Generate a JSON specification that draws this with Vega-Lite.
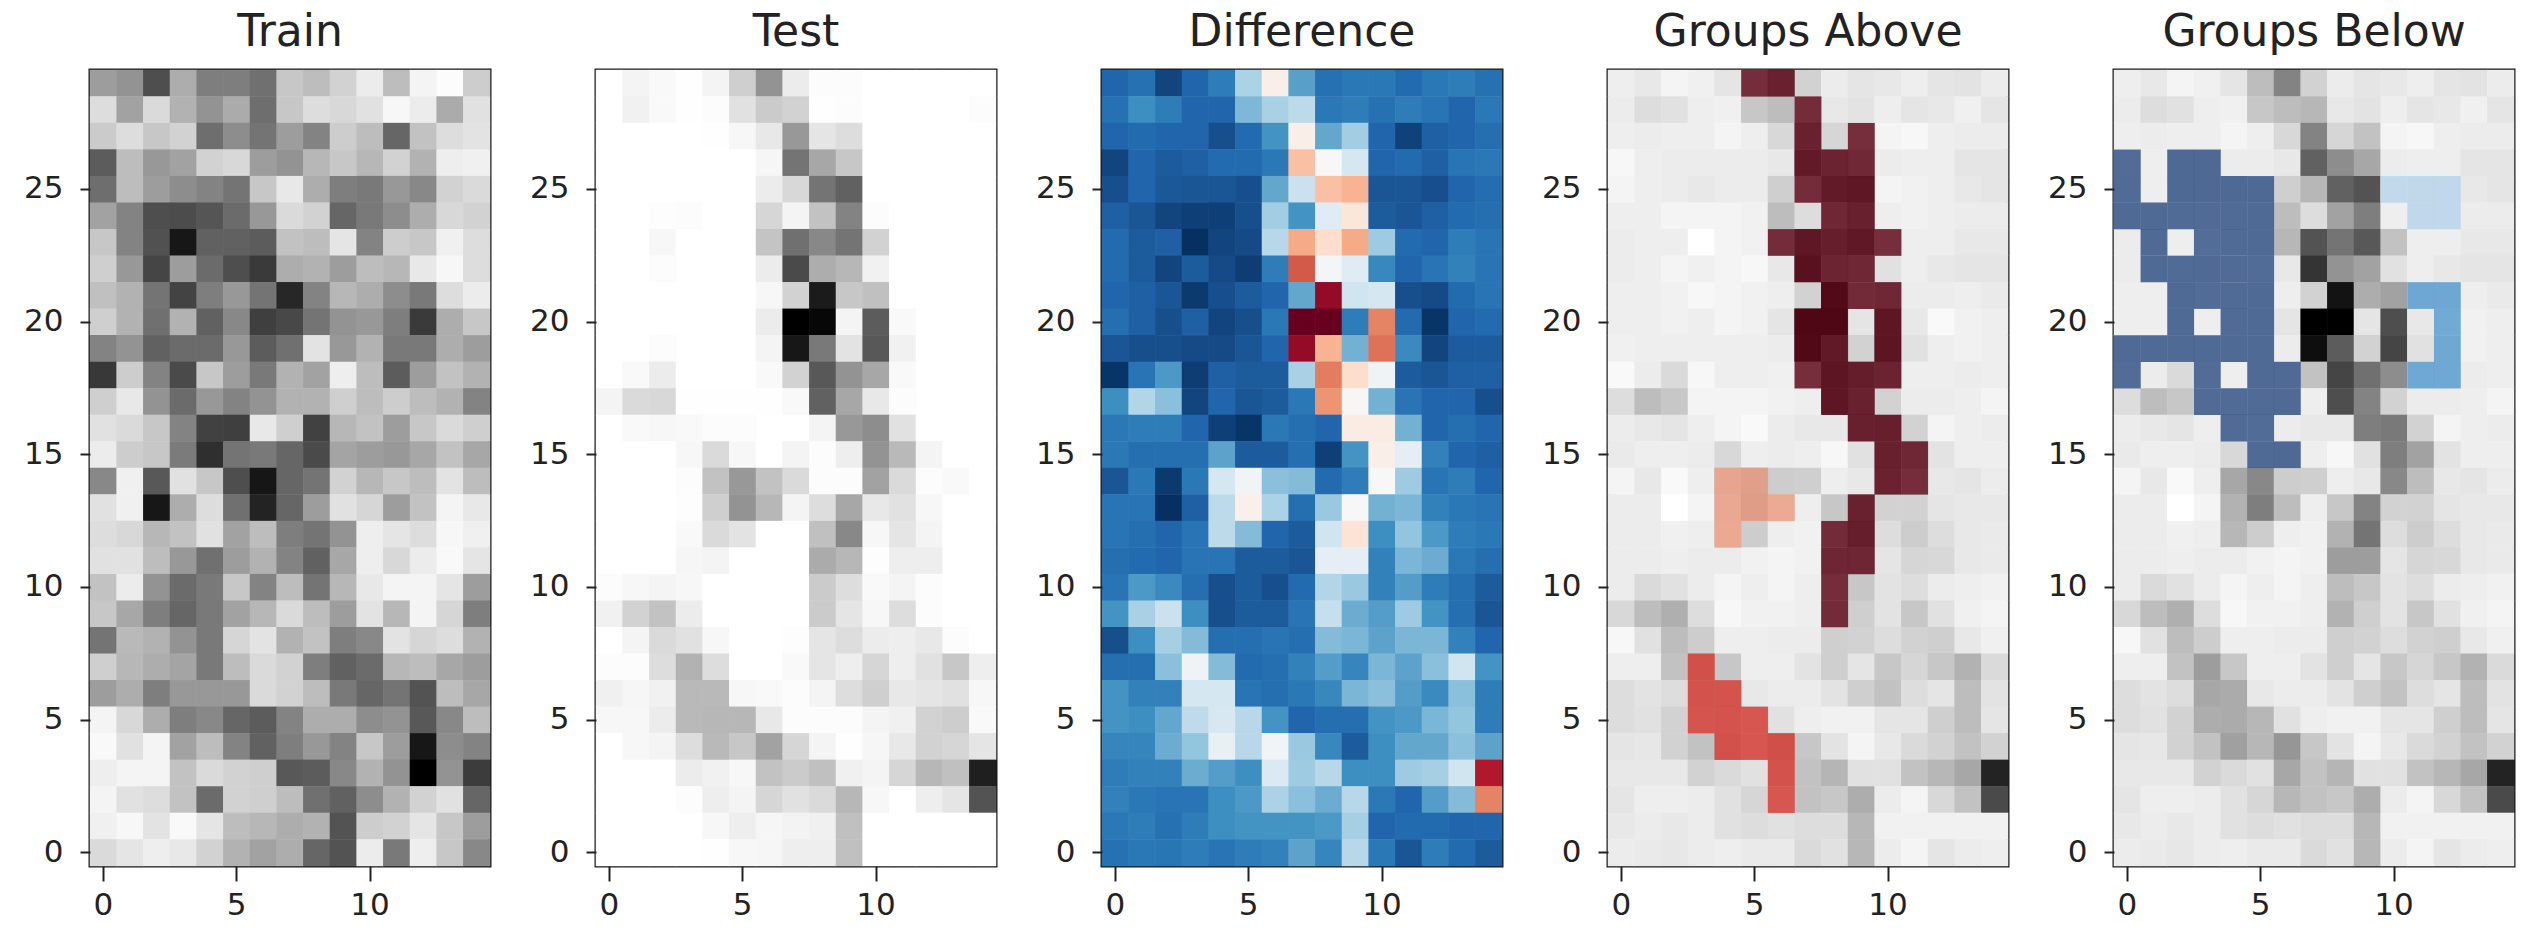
{"$schema":"https://vega.github.io/schema/vega-lite/v6.json","padding":{"left":22,"top":9,"right":0,"bottom":0},"spacing":36,"background":"white","resolve":{"scale":{"color":"independent"}},"config":{"view":{"stroke":"#1a1a1a","strokeWidth":3},"title":{"font":"DejaVu Sans","fontSize":44,"fontWeight":"normal","color":"#222222","offset":15},"axis":{"title":null,"grid":false,"domain":false,"tickColor":"#222222","tickWidth":2,"labelFont":"DejaVu Sans","labelFontSize":31,"labelColor":"#222222","labelAngle":0},"axisX":{"tickSize":15,"labelPadding":9},"axisY":{"tickSize":10,"labelPadding":17}},"data":{"values":[
{"x":0,"y":29,"train":165,"test":255,"diff":-0.8,"bg":240},{"x":1,"y":29,"train":155,"test":245,"diff":-0.75,"bg":235},{"x":2,"y":29,"train":85,"test":250,"diff":-0.92,"bg":245},{"x":3,"y":29,"train":180,"test":254,"diff":-0.8,"bg":242},{"x":4,"y":29,"train":135,"test":245,"diff":-0.7,"bg":232},{"x":5,"y":29,"train":135,"test":212,"diff":-0.32,"bg":195,"above":"g1"},{"x":6,"y":29,"train":120,"test":155,"diff":0.06,"bg":140,"above":"g1"},{"x":7,"y":29,"train":205,"test":238,"diff":-0.55,"bg":215},{"x":8,"y":29,"train":195,"test":252,"diff":-0.75,"bg":238},{"x":9,"y":29,"train":215,"test":252,"diff":-0.72,"bg":232},{"x":10,"y":29,"train":238,"test":255,"diff":-0.72,"bg":235},{"x":11,"y":29,"train":195,"test":255,"diff":-0.78,"bg":240},{"x":12,"y":29,"train":245,"test":255,"diff":-0.72,"bg":232},{"x":13,"y":29,"train":252,"test":255,"diff":-0.7,"bg":230},{"x":14,"y":29,"train":210,"test":255,"diff":-0.75,"bg":238},
{"x":0,"y":28,"train":225,"test":255,"diff":-0.75,"bg":238},{"x":1,"y":28,"train":170,"test":243,"diff":-0.62,"bg":225},{"x":2,"y":28,"train":222,"test":250,"diff":-0.7,"bg":228},{"x":3,"y":28,"train":185,"test":254,"diff":-0.8,"bg":240},{"x":4,"y":28,"train":155,"test":252,"diff":-0.8,"bg":242},{"x":5,"y":28,"train":178,"test":228,"diff":-0.45,"bg":205},{"x":6,"y":28,"train":118,"test":208,"diff":-0.33,"bg":195},{"x":7,"y":28,"train":205,"test":215,"diff":-0.27,"bg":190,"above":"g1"},{"x":8,"y":28,"train":225,"test":254,"diff":-0.72,"bg":235},{"x":9,"y":28,"train":220,"test":252,"diff":-0.7,"bg":230},{"x":10,"y":28,"train":228,"test":255,"diff":-0.75,"bg":240},{"x":11,"y":28,"train":248,"test":255,"diff":-0.7,"bg":232},{"x":12,"y":28,"train":238,"test":255,"diff":-0.74,"bg":235},{"x":13,"y":28,"train":178,"test":255,"diff":-0.8,"bg":242},{"x":14,"y":28,"train":228,"test":252,"diff":-0.72,"bg":232},
{"x":0,"y":27,"train":208,"test":255,"diff":-0.8,"bg":240},{"x":1,"y":27,"train":225,"test":255,"diff":-0.78,"bg":238},{"x":2,"y":27,"train":205,"test":255,"diff":-0.8,"bg":240},{"x":3,"y":27,"train":215,"test":255,"diff":-0.8,"bg":240},{"x":4,"y":27,"train":118,"test":254,"diff":-0.88,"bg":245},{"x":5,"y":27,"train":150,"test":248,"diff":-0.78,"bg":240},{"x":6,"y":27,"train":125,"test":235,"diff":-0.6,"bg":220},{"x":7,"y":27,"train":165,"test":160,"diff":0.06,"bg":140,"above":"g1"},{"x":8,"y":27,"train":140,"test":232,"diff":-0.52,"bg":218},{"x":9,"y":27,"train":210,"test":225,"diff":-0.35,"bg":200,"above":"g1"},{"x":10,"y":27,"train":195,"test":255,"diff":-0.8,"bg":245},{"x":11,"y":27,"train":110,"test":255,"diff":-0.93,"bg":248},{"x":12,"y":27,"train":200,"test":255,"diff":-0.82,"bg":240},{"x":13,"y":27,"train":225,"test":255,"diff":-0.8,"bg":238},{"x":14,"y":27,"train":230,"test":255,"diff":-0.76,"bg":238},
{"x":0,"y":26,"train":100,"test":255,"diff":-0.92,"bg":248,"below":"b1"},{"x":1,"y":26,"train":195,"test":255,"diff":-0.8,"bg":240},{"x":2,"y":26,"train":160,"test":255,"diff":-0.84,"bg":238,"below":"b1"},{"x":3,"y":26,"train":170,"test":255,"diff":-0.82,"bg":238,"below":"b1"},{"x":4,"y":26,"train":215,"test":255,"diff":-0.78,"bg":238},{"x":5,"y":26,"train":220,"test":255,"diff":-0.78,"bg":238},{"x":6,"y":26,"train":165,"test":247,"diff":-0.72,"bg":235},{"x":7,"y":26,"train":155,"test":125,"diff":0.3,"bg":105,"above":"g1"},{"x":8,"y":26,"train":190,"test":175,"diff":0,"bg":150,"above":"g1"},{"x":9,"y":26,"train":205,"test":205,"diff":-0.18,"bg":175,"above":"g1"},{"x":10,"y":26,"train":190,"test":255,"diff":-0.8,"bg":238},{"x":11,"y":26,"train":215,"test":255,"diff":-0.78,"bg":240},{"x":12,"y":26,"train":185,"test":255,"diff":-0.82,"bg":240},{"x":13,"y":26,"train":240,"test":255,"diff":-0.74,"bg":232},{"x":14,"y":26,"train":242,"test":255,"diff":-0.72,"bg":232},
{"x":0,"y":25,"train":118,"test":255,"diff":-0.88,"bg":245,"below":"b1"},{"x":1,"y":25,"train":195,"test":255,"diff":-0.8,"bg":240},{"x":2,"y":25,"train":165,"test":255,"diff":-0.85,"bg":238,"below":"b1"},{"x":3,"y":25,"train":150,"test":255,"diff":-0.86,"bg":235,"below":"b1"},{"x":4,"y":25,"train":140,"test":255,"diff":-0.86,"bg":238,"below":"b1"},{"x":5,"y":25,"train":125,"test":255,"diff":-0.88,"bg":238,"below":"b1"},{"x":6,"y":25,"train":205,"test":238,"diff":-0.52,"bg":212},{"x":7,"y":25,"train":235,"test":220,"diff":-0.22,"bg":190,"above":"g1"},{"x":8,"y":25,"train":180,"test":125,"diff":0.3,"bg":105,"above":"g1"},{"x":9,"y":25,"train":135,"test":105,"diff":0.35,"bg":90,"above":"g1"},{"x":10,"y":25,"train":130,"test":255,"diff":-0.86,"bg":245,"below":"b2"},{"x":11,"y":25,"train":160,"test":255,"diff":-0.86,"bg":243,"below":"b2"},{"x":12,"y":25,"train":145,"test":255,"diff":-0.88,"bg":240,"below":"b2"},{"x":13,"y":25,"train":215,"test":255,"diff":-0.8,"bg":235},{"x":14,"y":25,"train":222,"test":255,"diff":-0.77,"bg":232},
{"x":0,"y":24,"train":170,"test":255,"diff":-0.82,"bg":240,"below":"b1"},{"x":1,"y":24,"train":140,"test":255,"diff":-0.86,"bg":240,"below":"b1"},{"x":2,"y":24,"train":85,"test":253,"diff":-0.92,"bg":245,"below":"b1"},{"x":3,"y":24,"train":82,"test":252,"diff":-0.94,"bg":245,"below":"b1"},{"x":4,"y":24,"train":92,"test":255,"diff":-0.94,"bg":245,"below":"b1"},{"x":5,"y":24,"train":115,"test":255,"diff":-0.88,"bg":243,"below":"b1"},{"x":6,"y":24,"train":160,"test":218,"diff":-0.35,"bg":195},{"x":7,"y":24,"train":222,"test":245,"diff":-0.6,"bg":225},{"x":8,"y":24,"train":215,"test":200,"diff":-0.12,"bg":170,"above":"g1"},{"x":9,"y":24,"train":110,"test":140,"diff":0.12,"bg":135,"above":"g1"},{"x":10,"y":24,"train":130,"test":252,"diff":-0.84,"bg":240},{"x":11,"y":24,"train":150,"test":255,"diff":-0.86,"bg":243,"below":"b2"},{"x":12,"y":24,"train":180,"test":255,"diff":-0.82,"bg":240,"below":"b2"},{"x":13,"y":24,"train":220,"test":255,"diff":-0.78,"bg":238},{"x":14,"y":24,"train":215,"test":255,"diff":-0.76,"bg":238},
{"x":0,"y":23,"train":205,"test":255,"diff":-0.78,"bg":238},{"x":1,"y":23,"train":140,"test":255,"diff":-0.84,"bg":240,"below":"b1"},{"x":2,"y":23,"train":88,"test":248,"diff":-0.82,"bg":240},{"x":3,"y":23,"train":20,"test":255,"diff":-1,"bg":255,"below":"b1"},{"x":4,"y":23,"train":105,"test":255,"diff":-0.92,"bg":245,"below":"b1"},{"x":5,"y":23,"train":105,"test":255,"diff":-0.9,"bg":243,"below":"b1"},{"x":6,"y":23,"train":100,"test":202,"diff":-0.28,"bg":190,"above":"g1"},{"x":7,"y":23,"train":200,"test":120,"diff":0.38,"bg":90,"above":"g1"},{"x":8,"y":23,"train":195,"test":145,"diff":0.18,"bg":125,"above":"g1"},{"x":9,"y":23,"train":232,"test":125,"diff":0.38,"bg":95,"above":"g1"},{"x":10,"y":23,"train":140,"test":215,"diff":-0.36,"bg":200,"above":"g1"},{"x":11,"y":23,"train":210,"test":255,"diff":-0.78,"bg":240},{"x":12,"y":23,"train":205,"test":255,"diff":-0.8,"bg":240},{"x":13,"y":23,"train":242,"test":255,"diff":-0.7,"bg":235},{"x":14,"y":23,"train":225,"test":255,"diff":-0.74,"bg":235},
{"x":0,"y":22,"train":212,"test":255,"diff":-0.78,"bg":238},{"x":1,"y":22,"train":160,"test":255,"diff":-0.84,"bg":240,"below":"b1"},{"x":2,"y":22,"train":75,"test":252,"diff":-0.92,"bg":245,"below":"b1"},{"x":3,"y":22,"train":165,"test":255,"diff":-0.84,"bg":242,"below":"b1"},{"x":4,"y":22,"train":115,"test":255,"diff":-0.9,"bg":245,"below":"b1"},{"x":5,"y":22,"train":85,"test":255,"diff":-0.95,"bg":248,"below":"b1"},{"x":6,"y":22,"train":62,"test":238,"diff":-0.7,"bg":235},{"x":7,"y":22,"train":180,"test":80,"diff":0.62,"bg":55,"above":"g1"},{"x":8,"y":22,"train":185,"test":180,"diff":-0.02,"bg":155,"above":"g1"},{"x":9,"y":22,"train":165,"test":190,"diff":-0.12,"bg":170,"above":"g1"},{"x":10,"y":22,"train":195,"test":243,"diff":-0.65,"bg":228},{"x":11,"y":22,"train":190,"test":255,"diff":-0.8,"bg":240},{"x":12,"y":22,"train":235,"test":255,"diff":-0.74,"bg":235},{"x":13,"y":22,"train":248,"test":255,"diff":-0.68,"bg":232},{"x":14,"y":22,"train":225,"test":255,"diff":-0.74,"bg":232},
{"x":0,"y":21,"train":198,"test":255,"diff":-0.8,"bg":240},{"x":1,"y":21,"train":185,"test":255,"diff":-0.82,"bg":240},{"x":2,"y":21,"train":125,"test":255,"diff":-0.86,"bg":243,"below":"b1"},{"x":3,"y":21,"train":72,"test":255,"diff":-0.96,"bg":248,"below":"b1"},{"x":4,"y":21,"train":135,"test":255,"diff":-0.88,"bg":245,"below":"b1"},{"x":5,"y":21,"train":160,"test":255,"diff":-0.84,"bg":243,"below":"b1"},{"x":6,"y":21,"train":125,"test":248,"diff":-0.8,"bg":240},{"x":7,"y":21,"train":40,"test":215,"diff":-0.52,"bg":215},{"x":8,"y":21,"train":140,"test":25,"diff":0.88,"bg":15,"above":"g1"},{"x":9,"y":21,"train":190,"test":205,"diff":-0.2,"bg":180,"above":"g1"},{"x":10,"y":21,"train":180,"test":198,"diff":-0.18,"bg":170,"above":"g1"},{"x":11,"y":21,"train":150,"test":255,"diff":-0.88,"bg":238,"below":"b3"},{"x":12,"y":21,"train":130,"test":255,"diff":-0.9,"bg":238,"below":"b3"},{"x":13,"y":21,"train":225,"test":255,"diff":-0.78,"bg":240},{"x":14,"y":21,"train":238,"test":255,"diff":-0.74,"bg":236},
{"x":0,"y":20,"train":212,"test":255,"diff":-0.76,"bg":240},{"x":1,"y":20,"train":185,"test":255,"diff":-0.82,"bg":240},{"x":2,"y":20,"train":120,"test":255,"diff":-0.88,"bg":243,"below":"b1"},{"x":3,"y":20,"train":185,"test":255,"diff":-0.82,"bg":240},{"x":4,"y":20,"train":105,"test":255,"diff":-0.92,"bg":245,"below":"b1"},{"x":5,"y":20,"train":145,"test":255,"diff":-0.88,"bg":243,"below":"b1"},{"x":6,"y":20,"train":68,"test":238,"diff":-0.72,"bg":232},{"x":7,"y":20,"train":78,"test":0,"diff":1,"bg":0,"above":"g1"},{"x":8,"y":20,"train":125,"test":5,"diff":1,"bg":0,"above":"g1"},{"x":9,"y":20,"train":155,"test":245,"diff":-0.7,"bg":232},{"x":10,"y":20,"train":160,"test":100,"diff":0.5,"bg":85,"above":"g1"},{"x":11,"y":20,"train":135,"test":250,"diff":-0.78,"bg":235},{"x":12,"y":20,"train":62,"test":255,"diff":-0.98,"bg":250,"below":"b3"},{"x":13,"y":20,"train":180,"test":255,"diff":-0.8,"bg":243},{"x":14,"y":20,"train":205,"test":255,"diff":-0.78,"bg":240},
{"x":0,"y":19,"train":140,"test":255,"diff":-0.86,"bg":242,"below":"b1"},{"x":1,"y":19,"train":155,"test":255,"diff":-0.88,"bg":240,"below":"b1"},{"x":2,"y":19,"train":105,"test":252,"diff":-0.88,"bg":240,"below":"b1"},{"x":3,"y":19,"train":115,"test":255,"diff":-0.9,"bg":240,"below":"b1"},{"x":4,"y":19,"train":115,"test":255,"diff":-0.9,"bg":240,"below":"b1"},{"x":5,"y":19,"train":160,"test":255,"diff":-0.86,"bg":240,"below":"b1"},{"x":6,"y":19,"train":100,"test":245,"diff":-0.8,"bg":238},{"x":7,"y":19,"train":120,"test":20,"diff":0.88,"bg":10,"above":"g1"},{"x":8,"y":19,"train":230,"test":130,"diff":0.35,"bg":100,"above":"g1"},{"x":9,"y":19,"train":160,"test":230,"diff":-0.48,"bg":215},{"x":10,"y":19,"train":185,"test":95,"diff":0.55,"bg":75,"above":"g1"},{"x":11,"y":19,"train":130,"test":243,"diff":-0.64,"bg":228},{"x":12,"y":19,"train":130,"test":255,"diff":-0.92,"bg":240,"below":"b3"},{"x":13,"y":19,"train":180,"test":255,"diff":-0.84,"bg":243},{"x":14,"y":19,"train":165,"test":255,"diff":-0.84,"bg":240},
{"x":0,"y":18,"train":60,"test":255,"diff":-0.98,"bg":250,"below":"b1"},{"x":1,"y":18,"train":210,"test":250,"diff":-0.74,"bg":238},{"x":2,"y":18,"train":140,"test":238,"diff":-0.58,"bg":222},{"x":3,"y":18,"train":80,"test":255,"diff":-0.95,"bg":248,"below":"b1"},{"x":4,"y":18,"train":205,"test":255,"diff":-0.82,"bg":240},{"x":5,"y":18,"train":165,"test":255,"diff":-0.84,"bg":240,"below":"b1"},{"x":6,"y":18,"train":130,"test":250,"diff":-0.84,"bg":242,"below":"b1"},{"x":7,"y":18,"train":185,"test":215,"diff":-0.33,"bg":200,"above":"g1"},{"x":8,"y":18,"train":170,"test":95,"diff":0.52,"bg":75,"above":"g1"},{"x":9,"y":18,"train":240,"test":155,"diff":0.18,"bg":120,"above":"g1"},{"x":10,"y":18,"train":195,"test":175,"diff":-0.04,"bg":150,"above":"g1"},{"x":11,"y":18,"train":100,"test":250,"diff":-0.84,"bg":240,"below":"b3"},{"x":12,"y":18,"train":165,"test":255,"diff":-0.86,"bg":240,"below":"b3"},{"x":13,"y":18,"train":200,"test":255,"diff":-0.82,"bg":238},{"x":14,"y":18,"train":185,"test":255,"diff":-0.82,"bg":240},
{"x":0,"y":17,"train":212,"test":245,"diff":-0.62,"bg":225},{"x":1,"y":17,"train":235,"test":222,"diff":-0.3,"bg":195},{"x":2,"y":17,"train":155,"test":220,"diff":-0.42,"bg":205},{"x":3,"y":17,"train":115,"test":254,"diff":-0.92,"bg":245,"below":"b1"},{"x":4,"y":17,"train":160,"test":254,"diff":-0.8,"bg":245,"below":"b1"},{"x":5,"y":17,"train":140,"test":254,"diff":-0.86,"bg":245,"below":"b1"},{"x":6,"y":17,"train":155,"test":254,"diff":-0.84,"bg":243,"below":"b1"},{"x":7,"y":17,"train":185,"test":250,"diff":-0.72,"bg":240},{"x":8,"y":17,"train":185,"test":105,"diff":0.45,"bg":85,"above":"g1"},{"x":9,"y":17,"train":212,"test":175,"diff":0.01,"bg":140,"above":"g1"},{"x":10,"y":17,"train":195,"test":235,"diff":-0.48,"bg":215},{"x":11,"y":17,"train":210,"test":252,"diff":-0.74,"bg":238},{"x":12,"y":17,"train":195,"test":255,"diff":-0.8,"bg":238},{"x":13,"y":17,"train":185,"test":255,"diff":-0.8,"bg":240},{"x":14,"y":17,"train":140,"test":255,"diff":-0.88,"bg":245},
{"x":0,"y":16,"train":228,"test":255,"diff":-0.72,"bg":238},{"x":1,"y":16,"train":222,"test":250,"diff":-0.7,"bg":235},{"x":2,"y":16,"train":205,"test":248,"diff":-0.7,"bg":232},{"x":3,"y":16,"train":140,"test":250,"diff":-0.8,"bg":240},{"x":4,"y":16,"train":70,"test":252,"diff":-0.94,"bg":245,"below":"b1"},{"x":5,"y":16,"train":68,"test":252,"diff":-0.98,"bg":250,"below":"b1"},{"x":6,"y":16,"train":235,"test":255,"diff":-0.72,"bg":238},{"x":7,"y":16,"train":212,"test":255,"diff":-0.76,"bg":235},{"x":8,"y":16,"train":70,"test":245,"diff":-0.8,"bg":235},{"x":9,"y":16,"train":190,"test":160,"diff":0.08,"bg":135,"above":"g1"},{"x":10,"y":16,"train":200,"test":150,"diff":0.08,"bg":130,"above":"g1"},{"x":11,"y":16,"train":165,"test":228,"diff":-0.48,"bg":215},{"x":12,"y":16,"train":205,"test":255,"diff":-0.8,"bg":245},{"x":13,"y":16,"train":222,"test":255,"diff":-0.76,"bg":240},{"x":14,"y":16,"train":212,"test":255,"diff":-0.8,"bg":238},
{"x":0,"y":15,"train":238,"test":255,"diff":-0.72,"bg":236},{"x":1,"y":15,"train":210,"test":255,"diff":-0.76,"bg":240},{"x":2,"y":15,"train":205,"test":255,"diff":-0.76,"bg":240},{"x":3,"y":15,"train":132,"test":248,"diff":-0.76,"bg":238},{"x":4,"y":15,"train":50,"test":222,"diff":-0.54,"bg":220},{"x":5,"y":15,"train":125,"test":248,"diff":-0.84,"bg":240,"below":"b1"},{"x":6,"y":15,"train":130,"test":255,"diff":-0.84,"bg":238,"below":"b1"},{"x":7,"y":15,"train":110,"test":245,"diff":-0.76,"bg":240},{"x":8,"y":15,"train":80,"test":252,"diff":-0.94,"bg":248},{"x":9,"y":15,"train":172,"test":240,"diff":-0.6,"bg":228},{"x":10,"y":15,"train":165,"test":155,"diff":0.06,"bg":135,"above":"g1"},{"x":11,"y":15,"train":160,"test":192,"diff":-0.1,"bg":170,"above":"g1"},{"x":12,"y":15,"train":175,"test":245,"diff":-0.68,"bg":230},{"x":13,"y":15,"train":200,"test":255,"diff":-0.8,"bg":240},{"x":14,"y":15,"train":175,"test":255,"diff":-0.82,"bg":240},
{"x":0,"y":14,"train":145,"test":255,"diff":-0.86,"bg":245},{"x":1,"y":14,"train":242,"test":255,"diff":-0.72,"bg":235},{"x":2,"y":14,"train":95,"test":255,"diff":-0.96,"bg":250},{"x":3,"y":14,"train":228,"test":252,"diff":-0.72,"bg":240},{"x":4,"y":14,"train":205,"test":200,"diff":-0.18,"bg":175,"above":"g2"},{"x":5,"y":14,"train":85,"test":160,"diff":-0.03,"bg":145,"above":"g2"},{"x":6,"y":14,"train":18,"test":200,"diff":-0.42,"bg":210},{"x":7,"y":14,"train":110,"test":222,"diff":-0.44,"bg":212},{"x":8,"y":14,"train":125,"test":252,"diff":-0.78,"bg":240},{"x":9,"y":14,"train":215,"test":252,"diff":-0.7,"bg":235},{"x":10,"y":14,"train":190,"test":170,"diff":0,"bg":145,"above":"g1"},{"x":11,"y":14,"train":205,"test":222,"diff":-0.36,"bg":195,"above":"g1"},{"x":12,"y":14,"train":195,"test":252,"diff":-0.74,"bg":235},{"x":13,"y":14,"train":230,"test":250,"diff":-0.7,"bg":232},{"x":14,"y":14,"train":195,"test":255,"diff":-0.8,"bg":238},
{"x":0,"y":13,"train":228,"test":255,"diff":-0.74,"bg":238},{"x":1,"y":13,"train":242,"test":255,"diff":-0.74,"bg":238},{"x":2,"y":13,"train":20,"test":255,"diff":-1,"bg":255},{"x":3,"y":13,"train":180,"test":253,"diff":-0.82,"bg":245},{"x":4,"y":13,"train":225,"test":212,"diff":-0.27,"bg":185,"above":"g2"},{"x":5,"y":13,"train":120,"test":155,"diff":0.05,"bg":135,"above":"g2"},{"x":6,"y":13,"train":35,"test":190,"diff":-0.32,"bg":195,"above":"g2"},{"x":7,"y":13,"train":110,"test":245,"diff":-0.76,"bg":240},{"x":8,"y":13,"train":165,"test":225,"diff":-0.38,"bg":205},{"x":9,"y":13,"train":228,"test":175,"diff":0,"bg":140,"above":"g1"},{"x":10,"y":13,"train":218,"test":235,"diff":-0.48,"bg":215},{"x":11,"y":13,"train":165,"test":228,"diff":-0.46,"bg":215},{"x":12,"y":13,"train":200,"test":248,"diff":-0.68,"bg":232},{"x":13,"y":13,"train":245,"test":255,"diff":-0.72,"bg":235},{"x":14,"y":13,"train":235,"test":255,"diff":-0.74,"bg":235},
{"x":0,"y":12,"train":225,"test":255,"diff":-0.74,"bg":238},{"x":1,"y":12,"train":220,"test":255,"diff":-0.76,"bg":238},{"x":2,"y":12,"train":190,"test":255,"diff":-0.8,"bg":242},{"x":3,"y":12,"train":200,"test":250,"diff":-0.74,"bg":240},{"x":4,"y":12,"train":228,"test":222,"diff":-0.27,"bg":190,"above":"g2"},{"x":5,"y":12,"train":170,"test":230,"diff":-0.44,"bg":210},{"x":6,"y":12,"train":195,"test":255,"diff":-0.8,"bg":240},{"x":7,"y":12,"train":135,"test":255,"diff":-0.84,"bg":243},{"x":8,"y":12,"train":125,"test":198,"diff":-0.2,"bg":185,"above":"g1"},{"x":9,"y":12,"train":155,"test":145,"diff":0.14,"bg":125,"above":"g1"},{"x":10,"y":12,"train":240,"test":248,"diff":-0.62,"bg":225},{"x":11,"y":12,"train":232,"test":232,"diff":-0.4,"bg":210},{"x":12,"y":12,"train":225,"test":245,"diff":-0.58,"bg":225},{"x":13,"y":12,"train":248,"test":255,"diff":-0.7,"bg":235},{"x":14,"y":12,"train":242,"test":255,"diff":-0.72,"bg":236},
{"x":0,"y":11,"train":228,"test":255,"diff":-0.76,"bg":238},{"x":1,"y":11,"train":228,"test":255,"diff":-0.78,"bg":238},{"x":2,"y":11,"train":195,"test":255,"diff":-0.8,"bg":240},{"x":3,"y":11,"train":160,"test":247,"diff":-0.74,"bg":238},{"x":4,"y":11,"train":120,"test":245,"diff":-0.74,"bg":238},{"x":5,"y":11,"train":165,"test":255,"diff":-0.84,"bg":243},{"x":6,"y":11,"train":185,"test":255,"diff":-0.84,"bg":245},{"x":7,"y":11,"train":140,"test":255,"diff":-0.86,"bg":243},{"x":8,"y":11,"train":105,"test":178,"diff":-0.1,"bg":165,"above":"g1"},{"x":9,"y":11,"train":175,"test":190,"diff":-0.1,"bg":165,"above":"g1"},{"x":10,"y":11,"train":240,"test":253,"diff":-0.68,"bg":232},{"x":11,"y":11,"train":220,"test":240,"diff":-0.46,"bg":218},{"x":12,"y":11,"train":238,"test":240,"diff":-0.5,"bg":220},{"x":13,"y":11,"train":250,"test":255,"diff":-0.72,"bg":235},{"x":14,"y":11,"train":232,"test":255,"diff":-0.76,"bg":236},
{"x":0,"y":10,"train":200,"test":252,"diff":-0.74,"bg":238},{"x":1,"y":10,"train":238,"test":248,"diff":-0.58,"bg":222},{"x":2,"y":10,"train":155,"test":245,"diff":-0.64,"bg":228},{"x":3,"y":10,"train":115,"test":248,"diff":-0.76,"bg":238},{"x":4,"y":10,"train":130,"test":255,"diff":-0.88,"bg":245},{"x":5,"y":10,"train":205,"test":255,"diff":-0.84,"bg":240},{"x":6,"y":10,"train":140,"test":255,"diff":-0.88,"bg":245},{"x":7,"y":10,"train":195,"test":255,"diff":-0.78,"bg":240},{"x":8,"y":10,"train":125,"test":208,"diff":-0.3,"bg":195,"above":"g1"},{"x":9,"y":10,"train":190,"test":225,"diff":-0.38,"bg":205},{"x":10,"y":10,"train":235,"test":250,"diff":-0.68,"bg":230},{"x":11,"y":10,"train":245,"test":245,"diff":-0.56,"bg":225},{"x":12,"y":10,"train":245,"test":252,"diff":-0.7,"bg":238},{"x":13,"y":10,"train":232,"test":255,"diff":-0.76,"bg":240},{"x":14,"y":10,"train":165,"test":255,"diff":-0.84,"bg":243},
{"x":0,"y":9,"train":205,"test":243,"diff":-0.6,"bg":220},{"x":1,"y":9,"train":175,"test":215,"diff":-0.33,"bg":195},{"x":2,"y":9,"train":135,"test":200,"diff":-0.22,"bg":182},{"x":3,"y":9,"train":110,"test":238,"diff":-0.62,"bg":225},{"x":4,"y":9,"train":130,"test":255,"diff":-0.88,"bg":248},{"x":5,"y":9,"train":170,"test":255,"diff":-0.84,"bg":243},{"x":6,"y":9,"train":190,"test":255,"diff":-0.84,"bg":243},{"x":7,"y":9,"train":222,"test":255,"diff":-0.74,"bg":240},{"x":8,"y":9,"train":195,"test":208,"diff":-0.24,"bg":185,"above":"g1"},{"x":9,"y":9,"train":165,"test":232,"diff":-0.5,"bg":212},{"x":10,"y":9,"train":230,"test":248,"diff":-0.56,"bg":230},{"x":11,"y":9,"train":190,"test":225,"diff":-0.36,"bg":205},{"x":12,"y":9,"train":245,"test":252,"diff":-0.6,"bg":228},{"x":13,"y":9,"train":218,"test":255,"diff":-0.76,"bg":242},{"x":14,"y":9,"train":135,"test":255,"diff":-0.86,"bg":245},
{"x":0,"y":8,"train":125,"test":255,"diff":-0.88,"bg":248},{"x":1,"y":8,"train":192,"test":245,"diff":-0.62,"bg":228},{"x":2,"y":8,"train":185,"test":222,"diff":-0.34,"bg":195},{"x":3,"y":8,"train":155,"test":228,"diff":-0.44,"bg":210},{"x":4,"y":8,"train":130,"test":248,"diff":-0.76,"bg":240},{"x":5,"y":8,"train":218,"test":255,"diff":-0.76,"bg":240},{"x":6,"y":8,"train":230,"test":255,"diff":-0.74,"bg":238},{"x":7,"y":8,"train":185,"test":253,"diff":-0.76,"bg":238},{"x":8,"y":8,"train":200,"test":232,"diff":-0.44,"bg":212},{"x":9,"y":8,"train":135,"test":225,"diff":-0.46,"bg":215},{"x":10,"y":8,"train":145,"test":238,"diff":-0.54,"bg":225},{"x":11,"y":8,"train":230,"test":240,"diff":-0.46,"bg":215},{"x":12,"y":8,"train":218,"test":235,"diff":-0.46,"bg":212},{"x":13,"y":8,"train":225,"test":252,"diff":-0.68,"bg":235},{"x":14,"y":8,"train":185,"test":255,"diff":-0.8,"bg":242},
{"x":0,"y":7,"train":212,"test":252,"diff":-0.76,"bg":240},{"x":1,"y":7,"train":190,"test":252,"diff":-0.76,"bg":240},{"x":2,"y":7,"train":180,"test":225,"diff":-0.42,"bg":200},{"x":3,"y":7,"train":172,"test":185,"diff":-0.04,"bg":165,"above":"g3"},{"x":4,"y":7,"train":130,"test":225,"diff":-0.44,"bg":205},{"x":5,"y":7,"train":195,"test":255,"diff":-0.78,"bg":240},{"x":6,"y":7,"train":222,"test":255,"diff":-0.76,"bg":240},{"x":7,"y":7,"train":215,"test":250,"diff":-0.68,"bg":230},{"x":8,"y":7,"train":135,"test":232,"diff":-0.56,"bg":212},{"x":9,"y":7,"train":105,"test":240,"diff":-0.66,"bg":232},{"x":10,"y":7,"train":115,"test":218,"diff":-0.46,"bg":205},{"x":11,"y":7,"train":190,"test":240,"diff":-0.54,"bg":218},{"x":12,"y":7,"train":195,"test":228,"diff":-0.42,"bg":205},{"x":13,"y":7,"train":175,"test":205,"diff":-0.2,"bg":185},{"x":14,"y":7,"train":165,"test":240,"diff":-0.6,"bg":222},
{"x":0,"y":6,"train":165,"test":242,"diff":-0.6,"bg":225},{"x":1,"y":6,"train":180,"test":247,"diff":-0.68,"bg":230},{"x":2,"y":6,"train":135,"test":243,"diff":-0.68,"bg":225},{"x":3,"y":6,"train":160,"test":192,"diff":-0.18,"bg":175,"above":"g3"},{"x":4,"y":6,"train":160,"test":192,"diff":-0.18,"bg":178,"above":"g3"},{"x":5,"y":6,"train":160,"test":248,"diff":-0.74,"bg":235},{"x":6,"y":6,"train":222,"test":250,"diff":-0.76,"bg":238},{"x":7,"y":6,"train":215,"test":252,"diff":-0.72,"bg":238},{"x":8,"y":6,"train":195,"test":245,"diff":-0.65,"bg":230},{"x":9,"y":6,"train":130,"test":225,"diff":-0.46,"bg":212},{"x":10,"y":6,"train":110,"test":212,"diff":-0.42,"bg":200},{"x":11,"y":6,"train":125,"test":235,"diff":-0.56,"bg":225},{"x":12,"y":6,"train":90,"test":232,"diff":-0.64,"bg":232},{"x":13,"y":6,"train":195,"test":228,"diff":-0.42,"bg":195},{"x":14,"y":6,"train":175,"test":248,"diff":-0.7,"bg":230},
{"x":0,"y":5,"train":245,"test":248,"diff":-0.6,"bg":225},{"x":1,"y":5,"train":220,"test":248,"diff":-0.62,"bg":228},{"x":2,"y":5,"train":180,"test":238,"diff":-0.52,"bg":215},{"x":3,"y":5,"train":135,"test":192,"diff":-0.26,"bg":180,"above":"g3"},{"x":4,"y":5,"train":145,"test":190,"diff":-0.17,"bg":178,"above":"g3"},{"x":5,"y":5,"train":110,"test":190,"diff":-0.28,"bg":190,"above":"g3"},{"x":6,"y":5,"train":100,"test":235,"diff":-0.6,"bg":228},{"x":7,"y":5,"train":140,"test":252,"diff":-0.8,"bg":240},{"x":8,"y":5,"train":180,"test":252,"diff":-0.76,"bg":243},{"x":9,"y":5,"train":180,"test":252,"diff":-0.76,"bg":243},{"x":10,"y":5,"train":150,"test":245,"diff":-0.6,"bg":232},{"x":11,"y":5,"train":155,"test":242,"diff":-0.58,"bg":232},{"x":12,"y":5,"train":95,"test":215,"diff":-0.46,"bg":212},{"x":13,"y":5,"train":145,"test":210,"diff":-0.4,"bg":195},{"x":14,"y":5,"train":195,"test":250,"diff":-0.7,"bg":232},
{"x":0,"y":4,"train":250,"test":255,"diff":-0.66,"bg":232},{"x":1,"y":4,"train":228,"test":248,"diff":-0.66,"bg":234},{"x":2,"y":4,"train":245,"test":245,"diff":-0.5,"bg":215},{"x":3,"y":4,"train":170,"test":225,"diff":-0.4,"bg":200},{"x":4,"y":4,"train":195,"test":192,"diff":-0.08,"bg":168,"above":"g3"},{"x":5,"y":4,"train":140,"test":205,"diff":-0.28,"bg":190,"above":"g3"},{"x":6,"y":4,"train":105,"test":170,"diff":-0.03,"bg":158,"above":"g3"},{"x":7,"y":4,"train":135,"test":218,"diff":-0.38,"bg":205},{"x":8,"y":4,"train":160,"test":245,"diff":-0.65,"bg":230},{"x":9,"y":4,"train":140,"test":254,"diff":-0.84,"bg":245},{"x":10,"y":4,"train":205,"test":247,"diff":-0.62,"bg":235},{"x":11,"y":4,"train":165,"test":235,"diff":-0.52,"bg":222},{"x":12,"y":4,"train":20,"test":215,"diff":-0.52,"bg":215},{"x":13,"y":4,"train":150,"test":218,"diff":-0.42,"bg":200},{"x":14,"y":4,"train":140,"test":232,"diff":-0.54,"bg":215},
{"x":0,"y":3,"train":240,"test":255,"diff":-0.7,"bg":235},{"x":1,"y":3,"train":245,"test":255,"diff":-0.68,"bg":235},{"x":2,"y":3,"train":245,"test":255,"diff":-0.68,"bg":235},{"x":3,"y":3,"train":200,"test":238,"diff":-0.5,"bg":215},{"x":4,"y":3,"train":222,"test":243,"diff":-0.56,"bg":222},{"x":5,"y":3,"train":215,"test":248,"diff":-0.62,"bg":228},{"x":6,"y":3,"train":212,"test":200,"diff":-0.15,"bg":175,"above":"g3"},{"x":7,"y":3,"train":95,"test":208,"diff":-0.36,"bg":200},{"x":8,"y":3,"train":100,"test":198,"diff":-0.28,"bg":188},{"x":9,"y":3,"train":145,"test":242,"diff":-0.62,"bg":228},{"x":10,"y":3,"train":185,"test":245,"diff":-0.62,"bg":228},{"x":11,"y":3,"train":155,"test":218,"diff":-0.36,"bg":200},{"x":12,"y":3,"train":0,"test":190,"diff":-0.34,"bg":190},{"x":13,"y":3,"train":155,"test":198,"diff":-0.2,"bg":175},{"x":14,"y":3,"train":65,"test":30,"diff":0.8,"bg":35},
{"x":0,"y":2,"train":245,"test":255,"diff":-0.68,"bg":232},{"x":1,"y":2,"train":228,"test":255,"diff":-0.72,"bg":240},{"x":2,"y":2,"train":225,"test":255,"diff":-0.74,"bg":240},{"x":3,"y":2,"train":200,"test":252,"diff":-0.74,"bg":238},{"x":4,"y":2,"train":115,"test":240,"diff":-0.62,"bg":228},{"x":5,"y":2,"train":215,"test":245,"diff":-0.58,"bg":218},{"x":6,"y":2,"train":212,"test":218,"diff":-0.32,"bg":190,"above":"g3"},{"x":7,"y":2,"train":195,"test":228,"diff":-0.42,"bg":200},{"x":8,"y":2,"train":120,"test":222,"diff":-0.5,"bg":205},{"x":9,"y":2,"train":105,"test":190,"diff":-0.28,"bg":180},{"x":10,"y":2,"train":150,"test":248,"diff":-0.72,"bg":238},{"x":11,"y":2,"train":185,"test":255,"diff":-0.8,"bg":245},{"x":12,"y":2,"train":215,"test":240,"diff":-0.56,"bg":220},{"x":13,"y":2,"train":228,"test":232,"diff":-0.44,"bg":200},{"x":14,"y":2,"train":110,"test":90,"diff":0.5,"bg":80},
{"x":0,"y":1,"train":242,"test":255,"diff":-0.72,"bg":235},{"x":1,"y":1,"train":248,"test":255,"diff":-0.7,"bg":238},{"x":2,"y":1,"train":230,"test":255,"diff":-0.75,"bg":235},{"x":3,"y":1,"train":250,"test":255,"diff":-0.7,"bg":238},{"x":4,"y":1,"train":232,"test":248,"diff":-0.62,"bg":228},{"x":5,"y":1,"train":195,"test":240,"diff":-0.6,"bg":225},{"x":6,"y":1,"train":190,"test":247,"diff":-0.6,"bg":228},{"x":7,"y":1,"train":180,"test":244,"diff":-0.6,"bg":225},{"x":8,"y":1,"train":185,"test":242,"diff":-0.58,"bg":225},{"x":9,"y":1,"train":90,"test":198,"diff":-0.34,"bg":190},{"x":10,"y":1,"train":210,"test":255,"diff":-0.8,"bg":243},{"x":11,"y":1,"train":215,"test":255,"diff":-0.78,"bg":243},{"x":12,"y":1,"train":232,"test":255,"diff":-0.78,"bg":243},{"x":13,"y":1,"train":205,"test":255,"diff":-0.8,"bg":243},{"x":14,"y":1,"train":165,"test":255,"diff":-0.8,"bg":243},
{"x":0,"y":0,"train":222,"test":255,"diff":-0.75,"bg":238},{"x":1,"y":0,"train":232,"test":255,"diff":-0.72,"bg":236},{"x":2,"y":0,"train":240,"test":255,"diff":-0.73,"bg":234},{"x":3,"y":0,"train":235,"test":255,"diff":-0.7,"bg":238},{"x":4,"y":0,"train":215,"test":254,"diff":-0.74,"bg":240},{"x":5,"y":0,"train":185,"test":248,"diff":-0.7,"bg":236},{"x":6,"y":0,"train":170,"test":247,"diff":-0.68,"bg":236},{"x":7,"y":0,"train":180,"test":240,"diff":-0.54,"bg":222},{"x":8,"y":0,"train":110,"test":240,"diff":-0.66,"bg":228},{"x":9,"y":0,"train":90,"test":198,"diff":-0.28,"bg":190},{"x":10,"y":0,"train":238,"test":255,"diff":-0.72,"bg":238},{"x":11,"y":0,"train":130,"test":255,"diff":-0.86,"bg":245},{"x":12,"y":0,"train":240,"test":255,"diff":-0.7,"bg":232},{"x":13,"y":0,"train":205,"test":255,"diff":-0.78,"bg":238},{"x":14,"y":0,"train":145,"test":255,"diff":-0.84,"bg":240}
]},"hconcat":[
{"width":400,"height":796,"title":"Train","mark":{"type":"rect","width":27.2,"height":27},"encoding":{"x":{"field":"x","type":"ordinal","scale":{"domain":[0,1,2,3,4,5,6,7,8,9,10,11,12,13,14],"paddingInner":0,"paddingOuter":0},"axis":{"values":[0,5,10]}},"y":{"field":"y","type":"ordinal","scale":{"domain":[29,28,27,26,25,24,23,22,21,20,19,18,17,16,15,14,13,12,11,10,9,8,7,6,5,4,3,2,1,0],"paddingInner":0,"paddingOuter":0},"axis":{"values":[0,5,10,15,20,25]}},"color":{"field":"train","type":"quantitative","legend":null,"scale":{"domain":[0,255],"range":["#000000","#ffffff"]}}}},
{"width":400,"height":796,"title":"Test","mark":{"type":"rect","width":27.2,"height":27},"encoding":{"x":{"field":"x","type":"ordinal","scale":{"domain":[0,1,2,3,4,5,6,7,8,9,10,11,12,13,14],"paddingInner":0,"paddingOuter":0},"axis":{"values":[0,5,10]}},"y":{"field":"y","type":"ordinal","scale":{"domain":[29,28,27,26,25,24,23,22,21,20,19,18,17,16,15,14,13,12,11,10,9,8,7,6,5,4,3,2,1,0],"paddingInner":0,"paddingOuter":0},"axis":{"values":[0,5,10,15,20,25]}},"color":{"field":"test","type":"quantitative","legend":null,"scale":{"domain":[0,255],"range":["#000000","#ffffff"]}}}},
{"width":400,"height":796,"title":"Difference","mark":{"type":"rect","width":27.2,"height":27},"encoding":{"x":{"field":"x","type":"ordinal","scale":{"domain":[0,1,2,3,4,5,6,7,8,9,10,11,12,13,14],"paddingInner":0,"paddingOuter":0},"axis":{"values":[0,5,10]}},"y":{"field":"y","type":"ordinal","scale":{"domain":[29,28,27,26,25,24,23,22,21,20,19,18,17,16,15,14,13,12,11,10,9,8,7,6,5,4,3,2,1,0],"paddingInner":0,"paddingOuter":0},"axis":{"values":[0,5,10,15,20,25]}},"color":{"field":"diff","type":"quantitative","legend":null,"scale":{"domain":[-1,-0.8,-0.6,-0.4,-0.2,0,0.2,0.4,0.6,0.8,1],"range":["#053061","#2166ac","#4393c3","#92c5de","#d1e5f0","#f7f7f7","#fddbc7","#f4a582","#d6604d","#b2182b","#67001f"]}}}},
{"width":400,"height":796,"title":"Groups Above","encoding":{"x":{"field":"x","type":"ordinal","scale":{"domain":[0,1,2,3,4,5,6,7,8,9,10,11,12,13,14],"paddingInner":0,"paddingOuter":0},"axis":{"values":[0,5,10]}},"y":{"field":"y","type":"ordinal","scale":{"domain":[29,28,27,26,25,24,23,22,21,20,19,18,17,16,15,14,13,12,11,10,9,8,7,6,5,4,3,2,1,0],"paddingInner":0,"paddingOuter":0},"axis":{"values":[0,5,10,15,20,25]}}},"layer":[{"mark":{"type":"rect","width":27.2,"height":27},"encoding":{"color":{"field":"bg","type":"quantitative","legend":null,"scale":{"domain":[0,255],"range":["#000000","#ffffff"]}}}},{"transform":[{"filter":"datum.above"}],"mark":{"type":"rect","opacity":0.8,"width":26.85,"height":26.7},"encoding":{"color":{"field":"above","type":"nominal","legend":null,"scale":{"domain":["g1","g2","g3"],"range":["#63081a","#f7a489","#de3e36"]}}}}],"resolve":{"scale":{"color":"independent"}}},
{"width":400,"height":796,"title":"Groups Below","encoding":{"x":{"field":"x","type":"ordinal","scale":{"domain":[0,1,2,3,4,5,6,7,8,9,10,11,12,13,14],"paddingInner":0,"paddingOuter":0},"axis":{"values":[0,5,10]}},"y":{"field":"y","type":"ordinal","scale":{"domain":[29,28,27,26,25,24,23,22,21,20,19,18,17,16,15,14,13,12,11,10,9,8,7,6,5,4,3,2,1,0],"paddingInner":0,"paddingOuter":0},"axis":{"values":[0,5,10,15,20,25]}}},"layer":[{"mark":{"type":"rect","width":27.2,"height":27},"encoding":{"color":{"field":"bg","type":"quantitative","legend":null,"scale":{"domain":[0,255],"range":["#000000","#ffffff"]}}}},{"transform":[{"filter":"datum.below"}],"mark":{"type":"rect","opacity":0.8,"width":26.85,"height":26.7},"encoding":{"color":{"field":"below","type":"nominal","legend":null,"scale":{"domain":["b1","b2","b3"],"range":["#27487d","#b4d2e8","#4f96cc"]}}}}],"resolve":{"scale":{"color":"independent"}}}
]}
